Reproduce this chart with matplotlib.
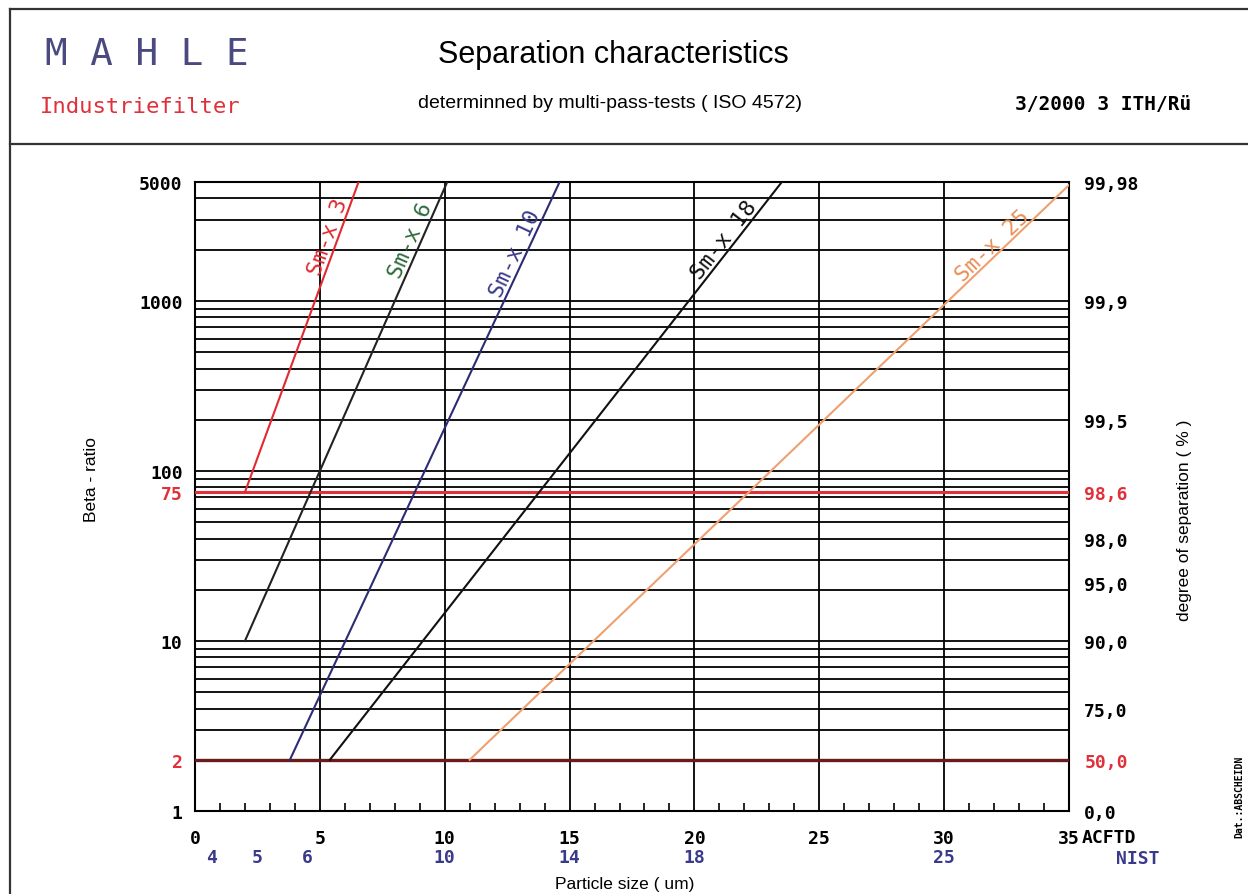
import numpy as np
import matplotlib.pyplot as plt
from matplotlib.ticker import LogLocator, MultipleLocator, NullLocator, FixedLocator

W, H = 1248, 895

# x axis: particle size (ACFTD) and the matching NIST values
x_ticks = [0, 5, 10, 15, 20, 25, 30, 35]
nist_pos = [0.65, 2.5, 4.5, 10, 15, 20, 30]
nist_labels = ["4", "5", "6", "10", "14", "18", "25"]

# left axis: beta ratio
beta_ticks = [1, 2, 10, 75, 100, 1000, 5000]
beta_labels = ["1", "2", "10", "75", "100", "1000", "5000"]
beta_colors = ["black", "#e0303a", "black", "#e0303a", "black", "black", "black"]

# right axis: degree of separation (%)
sep_pos = [5000, 1000, 200, 75, 40, 22, 10, 4, 2, 1]
sep_labels = ["99,98", "99,9", "99,5", "98,6", "98,0", "95,0", "90,0", "75,0", "50,0", "0,0"]
sep_colors = ["black", "black", "black", "#e0303a", "black", "black", "black", "black", "#e0303a", "black"]

# filter curves (start / end points)
curves = {
    "Sm-x 3":  {"x": [2.0, 6.55], "beta": [75, 5000], "color": "#e02a30", "text": "#e02a30", "lx": 5.7},
    "Sm-x 6":  {"x": [2.0, 10.1], "beta": [10, 5000], "color": "#222222", "text": "#2e6b3a", "lx": 9.0},
    "Sm-x 10": {"x": [3.8, 14.6], "beta": [2, 5000], "color": "#2c2c72", "text": "#3a3a8a", "lx": 13.2},
    "Sm-x 18": {"x": [5.4, 23.5], "beta": [2, 5000], "color": "#111111", "text": "#111111", "lx": 21.5},
    "Sm-x 25": {"x": [11.0, 35.0], "beta": [2, 4800], "color": "#f0a070", "text": "#e8905a", "lx": 32.2},
}

mono = "DejaVu Sans Mono"
sans = "Liberation Sans"


def fx(px):
    return px / W


def fy(py):
    return 1 - py / H


fig = plt.figure(figsize=(W / 100, H / 100), dpi=100)

# frame of the sheet
fig.add_artist(plt.Line2D([fx(10), 1], [fy(10), fy(10)], color="#333333", lw=1.6))
fig.add_artist(plt.Line2D([fx(10), fx(10)], [0, fy(10)], color="#333333", lw=1.6))
fig.add_artist(plt.Line2D([fx(10), 1], [fy(145), fy(145)], color="#333333", lw=1.6))

# header
fig.text(fx(45), fy(55), "M A H L E", family=mono, fontsize=27, color="#4a4a80", va="center")
fig.text(fx(40), fy(107), "Industriefilter", family=mono, fontsize=16, color="#e0303a", va="center")
fig.text(fx(613), fy(55), "Separation characteristics", family=sans, fontsize=22, ha="center", va="center")
fig.text(fx(610), fy(103), "determinned by multi-pass-tests ( ISO 4572)", family=sans, fontsize=14,
         ha="center", va="center")
fig.text(fx(1015), fy(105), "3/2000 3 ITH/Rü", family=mono, fontsize=14, weight="bold", va="center")

ax = fig.add_axes([fx(195), fy(812), (1069 - 195) / W, (812 - 183) / H])
ax.set_yscale("log")
ax.set_xlim(0, 35)
ax.set_ylim(1, 5000)

# grid
ax.yaxis.set_major_locator(FixedLocator(beta_ticks))
ax.yaxis.set_minor_locator(LogLocator(base=10, subs=np.arange(2, 10)))
ax.set_yticks(beta_ticks)
ax.set_yticklabels(beta_labels)
for lab, c in zip(ax.get_yticklabels(), beta_colors):
    lab.set_color(c)
ax.grid(True, which="both", axis="y", color="black", lw=1.3)
ax.set_xticks(x_ticks)
ax.set_xticklabels([str(v) for v in x_ticks])
ax.xaxis.set_minor_locator(MultipleLocator(1))
ax.grid(True, which="major", axis="x", color="black", lw=1.3)
ax.tick_params(axis="y", which="both", length=0, pad=9)
ax.tick_params(axis="x", which="major", length=0, pad=13)
ax.tick_params(axis="x", which="minor", direction="in", length=6, width=1.2, bottom=True, top=False)
for lab in ax.get_xticklabels() + ax.get_yticklabels():
    lab.set_family(mono)
    lab.set_weight("bold")
    lab.set_fontsize(13)
for s in ax.spines.values():
    s.set_linewidth(1.5)

# highlighted beta levels
ax.axhline(75, color="#e0303a", lw=2.2, zorder=3)
ax.axhline(2, color="#6a1c1c", lw=2.4, zorder=3)

# curves and their labels
for name, c in curves.items():
    ax.plot(c["x"], c["beta"], color=c["color"], lw=1.5, zorder=4)
    lb = np.log10(c["beta"])
    ly = 10 ** np.interp(c["lx"], c["x"], lb)
    p0 = ax.transData.transform((c["x"][0], c["beta"][0]))
    p1 = ax.transData.transform((c["x"][1], c["beta"][1]))
    ang = np.degrees(np.arctan2(p1[1] - p0[1], p1[0] - p0[0]))
    ax.text(c["lx"], ly, name, rotation=ang, rotation_mode="anchor", ha="center", va="bottom",
            family=mono, fontsize=16, color=c["text"], zorder=5)

# second row of x labels (NIST)
for pos, lab in zip(nist_pos, nist_labels):
    ax.text(pos, -0.073, lab, transform=ax.get_xaxis_transform(), ha="center", va="center",
            family=mono, weight="bold", fontsize=13, color="#3a3a8a")
fig.text(fx(1082), fy(838), "ACFTD", family=mono, weight="bold", fontsize=13, va="center")
fig.text(fx(1138), fy(859), "NIST", family=mono, weight="bold", fontsize=13, va="center",
         ha="center", color="#3a3a8a")

# right axis
ax2 = ax.twinx()
ax2.set_yscale("log")
ax2.set_ylim(1, 5000)
ax2.yaxis.set_major_locator(FixedLocator(sep_pos))
ax2.yaxis.set_minor_locator(NullLocator())
ax2.set_yticklabels(sep_labels)
for lab, c in zip(ax2.get_yticklabels(), sep_colors):
    lab.set_color(c)
    lab.set_family(mono)
    lab.set_weight("bold")
    lab.set_fontsize(13)
ax2.tick_params(axis="y", length=0, pad=11)
for s in ax2.spines.values():
    s.set_visible(False)

# axis titles
fig.text(fx(92), fy(480), "Beta - ratio", family=sans, fontsize=12.5, rotation=90, ha="center", va="center")
fig.text(fx(1185), fy(520), "degree of separation ( % )", family=sans, fontsize=12.5, rotation=90,
         ha="center", va="center")
fig.text(fx(625), fy(885), "Particle size ( um)", family=sans, fontsize=12.5, ha="center", va="center")
fig.text(fx(1239), fy(797), "Dat.:ABSCHEIDN", family=mono, weight="bold", fontsize=7, rotation=90,
         ha="center", va="center")

fig.savefig("out.png", dpi=100)
